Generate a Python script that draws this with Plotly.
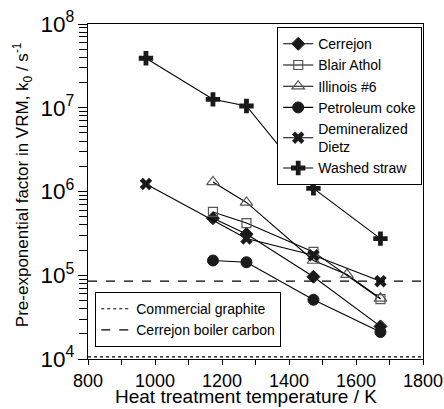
import plotly.graph_objects as go

# Heat treatment temperatures (K)
temps_4 = [1173, 1273, 1473, 1673]
temps_illinois = [1173, 1273, 1473, 1573, 1673]
temps_dietz = [973, 1273, 1473, 1673]
temps_straw = [973, 1173, 1273, 1473, 1673]

# Pre-exponential factor k0 (1/s)
k0_cerrejon = [4.8e5, 3.1e5, 9.6e4, 2.45e4]
k0_blair = [5.7e5, 4.2e5, 1.9e5, 5.2e4]
k0_illinois = [1.3e6, 7.4e5, 1.5e5, 1.02e5, 5.3e4]
k0_petcoke = [1.5e5, 1.43e5, 5.1e4, 2.1e4]
k0_dietz = [1.23e6, 2.75e5, 1.73e5, 8.5e4]
k0_straw = [3.9e7, 1.26e7, 1.05e7, 1.09e6, 2.74e5]

# Reference levels
k0_graphite = 1.06e4
k0_boiler = 8.5e4
x_span = [800, 1800]

# Tick positions
x_major = [800, 1000, 1200, 1400, 1600, 1800]
x_minor = [900, 1100, 1300, 1500, 1700]
y_minor = [m * 10 ** e for e in range(4, 8) for m in range(2, 10)]

FONT = "Liberation Sans, Arial, sans-serif"
DARK = "#1a1a1a"
GREY = "#555555"

fig = go.Figure()

def add_series(name, x, y, symbol, size, fill, outline, lw=1.0):
    fig.add_trace(go.Scatter(
        x=x, y=y, name=name, mode="lines+markers",
        line=dict(color="black", width=1.1),
        marker=dict(symbol=symbol, size=size, color=fill,
                    line=dict(color=outline, width=lw)),
        legend="legend",
    ))

add_series("Cerrejon", temps_4, k0_cerrejon, "diamond", 10, DARK, DARK)
add_series("Blair Athol", temps_4, k0_blair, "square-open", 9, GREY, GREY, 1.2)
add_series("Illinois #6", temps_illinois, k0_illinois, "triangle-up-open", 11, GREY, GREY, 1.2)
add_series("Petroleum coke", temps_4, k0_petcoke, "circle", 11, DARK, DARK)
add_series("Demineralized<br>Dietz", temps_dietz, k0_dietz, "x", 11, DARK, DARK, 0)
add_series("Washed straw", temps_straw, k0_straw, "cross", 12, DARK, DARK, 0)

# Horizontal reference levels, drawn on the overlay axis that carries
# the minor log ticks (same range as the main axis)
fig.add_trace(go.Scatter(
    x=x_span, y=[k0_graphite, k0_graphite], mode="lines",
    name="Commercial graphite", yaxis="y2",
    line=dict(color="black", width=1.2, dash="dot"),
    legend="legend2",
))
fig.add_trace(go.Scatter(
    x=x_span, y=[k0_boiler, k0_boiler], mode="lines",
    name="Cerrejon boiler carbon", yaxis="y2",
    line=dict(color="black", width=1.3, dash="dash"),
    legend="legend2",
))

fig.update_layout(
    width=444, height=409,
    margin=dict(l=88, r=21, t=24, b=50),
    paper_bgcolor="white", plot_bgcolor="white",
    font=dict(family=FONT, color="black", size=14),
    showlegend=True,
    legend=dict(
        x=0.997, y=0.991, xanchor="right", yanchor="top",
        bgcolor="white", bordercolor="black", borderwidth=1.2,
        font=dict(size=14, family=FONT), itemwidth=30,
        tracegroupgap=0,
    ),
    legend2=dict(
        x=0.021, y=0.036, xanchor="left", yanchor="bottom",
        bgcolor="white", bordercolor="black", borderwidth=1.2,
        font=dict(size=14, family=FONT), itemwidth=30,
    ),
    # overlay axis used only for the minor log ticks (2..9 of each decade)
    yaxis2=dict(
        type="log", range=[4, 8], overlaying="y", side="left",
        anchor="x", automargin=False,
        tickmode="array", tickvals=y_minor,
        showticklabels=False,
        ticks="outside", ticklen=8, tickwidth=1, tickcolor="black",
        showline=False, showgrid=False, zeroline=False,
    ),
)

fig.update_xaxes(
    range=[800, 1800], automargin=False,
    tickvals=x_major,
    ticks="outside", ticklen=5, tickwidth=1, tickcolor="black",
    minor=dict(tickvals=x_minor, ticks="outside",
               ticklen=5, tickwidth=1, tickcolor="black"),
    showline=True, linecolor="black", linewidth=1.2, mirror=True,
    showgrid=False, zeroline=False,
    tickfont=dict(size=18, family=FONT),
)

fig.update_layout(yaxis=dict(
    type="log", range=[4, 8], automargin=False,
    dtick=1, exponentformat="power", showexponent="all",
    ticks="outside", ticklen=9, tickwidth=1, tickcolor="black",
    showline=True, linecolor="black", linewidth=1.2, mirror=True,
    showgrid=False, zeroline=False,
    tickfont=dict(size=18, family=FONT),
))

# Axis titles
fig.add_annotation(
    text="Heat treatment temperature / K",
    xref="paper", yref="paper", x=0.472, y=-0.149,
    xanchor="center", yanchor="bottom", showarrow=False,
    font=dict(size=19, family=FONT),
)
fig.add_annotation(
    text="Pre-exponential factor in VRM, k<sub>0</sub> / s<sup>-1</sup>",
    xref="paper", yref="paper", x=-0.197, y=0.519,
    xanchor="center", yanchor="middle", textangle=-90, showarrow=False,
    font=dict(size=17, family=FONT),
)

fig.write_html("out.html")
